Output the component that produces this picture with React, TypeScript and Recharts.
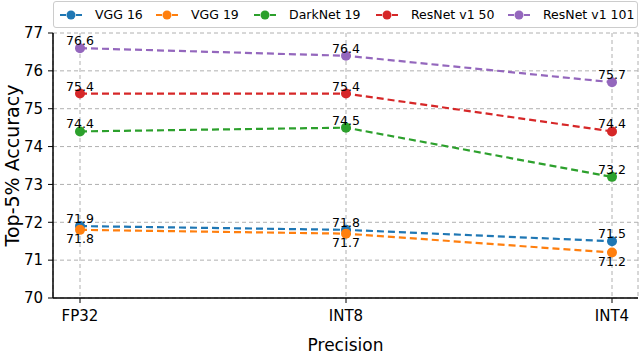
import React from 'react';
import { LineChart, Line, XAxis, YAxis, CartesianGrid, Legend, LabelList } from 'recharts';

const categories = ['FP32', 'INT8', 'INT4'];
const vgg16 = [71.9, 71.8, 71.5];
const vgg19 = [71.8, 71.7, 71.2];
const darknet19 = [74.4, 74.5, 73.2];
const resnet50 = [75.4, 75.4, 74.4];
const resnet101 = [76.6, 76.4, 75.7];
const yTicks = [70, 71, 72, 73, 74, 75, 76, 77];

const seriesDefs = [
  { key: 'vgg16', name: 'VGG 16', color: '#1f77b4', values: vgg16, below: false },
  { key: 'vgg19', name: 'VGG 19', color: '#ff7f0e', values: vgg19, below: true },
  { key: 'darknet19', name: 'DarkNet 19', color: '#2ca02c', values: darknet19, below: false },
  { key: 'resnet50', name: 'ResNet v1 50', color: '#d62728', values: resnet50, below: false },
  { key: 'resnet101', name: 'ResNet v1 101', color: '#9467bd', values: resnet101, below: false },
];

const legendOffsets = [6, 102, 200, 322, 454];

const data = categories.map((c, i) => {
  const row: any = { cat: c };
  seriesDefs.forEach((s) => {
    row[s.key] = s.values[i];
  });
  return row;
});

const FONT = 'DejaVu Sans, sans-serif';

const makeLabel = (below: boolean) => (props: any) => {
  const { x, y, value } = props;
  return (
    <text
      x={x}
      y={below ? y + 13 : y - 3}
      textAnchor="middle"
      fontSize={12.5}
      fontFamily={FONT}
      fill="#000"
    >
      {Number(value).toFixed(1)}
    </text>
  );
};

const LegendContent = () => {
  return (
    <div
      style={{
        position: 'relative',
        boxSizing: 'border-box',
        width: 585,
        height: 27,
        border: '1px solid #cccccc',
        borderRadius: 3,
        background: 'rgba(255,255,255,0.8)',
        fontFamily: FONT,
        fontSize: 12.5,
        color: '#000',
      }}
    >
      {seriesDefs.map((s, i) => (
        <div
          key={s.key}
          style={{ position: 'absolute', left: legendOffsets[i], top: 0, height: 25, display: 'flex', alignItems: 'center' }}
        >
          <svg width={22} height={12} style={{ marginRight: 13 }}>
            <line x1={0} y1={6} x2={22} y2={6} stroke={s.color} strokeWidth={2} strokeDasharray="6 2" />
            <circle cx={11} cy={6} r={4.5} fill={s.color} />
          </svg>
          <span style={{ whiteSpace: 'nowrap' }}>{s.name}</span>
        </div>
      ))}
    </div>
  );
};

export default function App() {
  return (
    <div style={{ position: 'absolute', left: 0, top: 0, width: 640, height: 355, background: '#fff' }}>
      <LineChart width={640} height={355} data={data} margin={{ top: 33, right: 2, left: 0, bottom: 0 }}>
        <CartesianGrid stroke="#b0b0b0" strokeDasharray="4 3" strokeWidth={1} />
        <XAxis
          dataKey="cat"
          type="category"
          height={57}
          padding={{ left: 27, right: 26 }}
          axisLine={{ stroke: '#000', strokeWidth: 1.5 }}
          tickLine={{ stroke: '#000', strokeWidth: 1 }}
          tickSize={5}
          tickMargin={7}
          tick={{ fontSize: 15, fontFamily: FONT, fill: '#000' }}
          label={(p: any) => {
            const vb = p.viewBox || {};
            return (
              <text x={vb.x + vb.width / 2} y={351} textAnchor="middle" fontSize={17} fontFamily={FONT} fill="#000">
                Precision
              </text>
            );
          }}
        />
        <XAxis
          xAxisId="top"
          dataKey="cat"
          orientation="top"
          height={0}
          tick={false}
          tickLine={false}
          axisLine={{ stroke: '#000', strokeWidth: 1.5 }}
        />
        <YAxis
          domain={[70, 77]}
          ticks={yTicks}
          width={53}
          interval={0}
          axisLine={{ stroke: '#000', strokeWidth: 1.5 }}
          tickLine={{ stroke: '#000', strokeWidth: 1 }}
          tickSize={5}
          tickMargin={5}
          tick={{ fontSize: 15, fontFamily: FONT, fill: '#000' }}
          label={(p: any) => {
            const vb = p.viewBox || {};
            const cx = 12;
            const cy = vb.y + vb.height / 2;
            return (
              <text
                x={cx}
                y={cy}
                textAnchor="middle"
                dominantBaseline="central"
                transform={`rotate(-90 ${cx} ${cy})`}
                fontSize={19}
                fontFamily={FONT}
                fill="#000"
              >
                Top-5% Accuracy
              </text>
            );
          }}
        />
        <YAxis
          yAxisId="right"
          orientation="right"
          width={0}
          domain={[0, 1]}
          tick={false}
          tickLine={false}
          axisLine={{ stroke: '#000', strokeWidth: 1.5 }}
        />
        <Legend
          layout="horizontal"
          verticalAlign="middle"
          align="center"
          wrapperStyle={{ position: 'absolute', top: 1, left: 53, width: 585, height: 27 }}
          content={LegendContent}
        />
        {seriesDefs.map((s) => (
          <Line
            key={s.key}
            dataKey={s.key}
            name={s.name}
            stroke={s.color}
            strokeWidth={2.2}
            strokeDasharray="7 4"
            dot={{ r: 5, fill: s.color, stroke: s.color, strokeWidth: 0 }}
            activeDot={false}
            isAnimationActive={false}
          >
            <LabelList dataKey={s.key} content={makeLabel(s.below)} />
          </Line>
        ))}
      </LineChart>
    </div>
  );
}
